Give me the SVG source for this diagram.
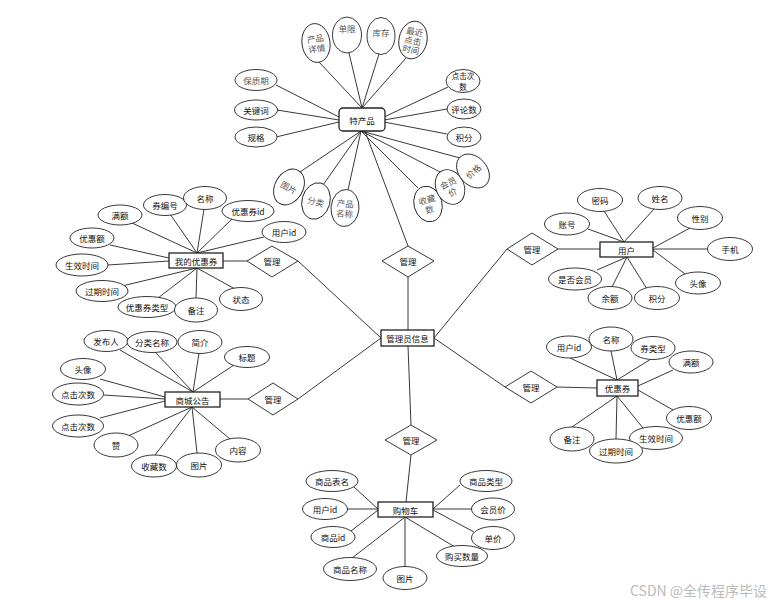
<svg xmlns="http://www.w3.org/2000/svg" width="778" height="604" viewBox="0 0 778 604">
<style>
  .bg{fill:#fff}
  .ln{stroke:#222;stroke-width:0.9;fill:none}
  .el{fill:#fff;stroke:#222;stroke-width:0.9}
  .en{fill:#fff;stroke:#222;stroke-width:1.3}
  .dm{fill:#fff;stroke:#222;stroke-width:0.9}
  .t{font-family:"Noto Sans CJK SC","Noto Sans",sans-serif;font-size:8.5px;fill:#111;text-anchor:middle;dominant-baseline:central}
  .s{font-size:7.5px}
  .g{font-family:"Noto Sans CJK SC","Noto Sans",sans-serif;font-size:8.5px;fill:#555;text-anchor:middle;dominant-baseline:central}
  .wm{font-family:"Noto Sans CJK SC","Noto Sans",sans-serif;font-size:14px;fill:#bbb}
</style>
<rect class="bg" x="0" y="0" width="778" height="604"/>
<g id="connectors">
  <line class="ln" x1="362" y1="108" x2="319" y2="62"/>
  <line class="ln" x1="362" y1="108" x2="349" y2="53"/>
  <line class="ln" x1="362" y1="108" x2="379" y2="54"/>
  <line class="ln" x1="362" y1="108" x2="406" y2="58"/>
  <line class="ln" x1="339" y1="117" x2="276" y2="85"/>
  <line class="ln" x1="339" y1="120" x2="277" y2="110"/>
  <line class="ln" x1="339" y1="122" x2="276" y2="137"/>
  <line class="ln" x1="384" y1="117" x2="448" y2="87"/>
  <line class="ln" x1="384" y1="120" x2="447" y2="109"/>
  <line class="ln" x1="384" y1="122" x2="447" y2="134"/>
  <line class="ln" x1="361" y1="131" x2="300" y2="172"/>
  <line class="ln" x1="361" y1="131" x2="323" y2="185"/>
  <line class="ln" x1="361" y1="131" x2="348" y2="190"/>
  <line class="ln" x1="361" y1="131" x2="418" y2="188"/>
  <line class="ln" x1="361" y1="131" x2="440" y2="172"/>
  <line class="ln" x1="361" y1="131" x2="460" y2="158"/>
  <line class="ln" x1="365" y1="131" x2="408" y2="246"/>
  <line class="ln" x1="408" y1="277" x2="408" y2="330"/>
  <line class="ln" x1="408" y1="346" x2="411" y2="425"/>
  <line class="ln" x1="298" y1="261" x2="381" y2="338"/>
  <line class="ln" x1="298" y1="399" x2="381" y2="338"/>
  <line class="ln" x1="507" y1="249" x2="434" y2="338"/>
  <line class="ln" x1="505" y1="387" x2="434" y2="338"/>
  <line class="ln" x1="223" y1="261" x2="247" y2="261"/>
  <line class="ln" x1="197" y1="253" x2="132" y2="223"/>
  <line class="ln" x1="197" y1="253" x2="170" y2="214"/>
  <line class="ln" x1="197" y1="253" x2="204" y2="209"/>
  <line class="ln" x1="197" y1="253" x2="232" y2="219"/>
  <line class="ln" x1="197" y1="253" x2="264" y2="237"/>
  <line class="ln" x1="169" y1="258" x2="110" y2="245"/>
  <line class="ln" x1="169" y1="261" x2="108" y2="265"/>
  <line class="ln" x1="197" y1="268" x2="122" y2="286"/>
  <line class="ln" x1="197" y1="268" x2="158" y2="298"/>
  <line class="ln" x1="197" y1="268" x2="196" y2="298"/>
  <line class="ln" x1="197" y1="268" x2="235" y2="289"/>
  <line class="ln" x1="220" y1="399" x2="248" y2="399"/>
  <line class="ln" x1="193" y1="392" x2="120" y2="350"/>
  <line class="ln" x1="193" y1="392" x2="155" y2="352"/>
  <line class="ln" x1="193" y1="392" x2="199" y2="353"/>
  <line class="ln" x1="193" y1="392" x2="234" y2="365"/>
  <line class="ln" x1="165" y1="397" x2="100" y2="379"/>
  <line class="ln" x1="165" y1="399" x2="104" y2="395"/>
  <line class="ln" x1="165" y1="401" x2="100" y2="418"/>
  <line class="ln" x1="192" y1="407" x2="128" y2="436"/>
  <line class="ln" x1="192" y1="407" x2="155" y2="455"/>
  <line class="ln" x1="192" y1="407" x2="197" y2="453"/>
  <line class="ln" x1="192" y1="407" x2="230" y2="439"/>
  <line class="ln" x1="558" y1="249" x2="600" y2="249"/>
  <line class="ln" x1="624" y1="242" x2="588" y2="229"/>
  <line class="ln" x1="624" y1="242" x2="604" y2="211"/>
  <line class="ln" x1="624" y1="242" x2="654" y2="209"/>
  <line class="ln" x1="653" y1="248" x2="690" y2="228"/>
  <line class="ln" x1="653" y1="249" x2="708" y2="249"/>
  <line class="ln" x1="653" y1="250" x2="685" y2="274"/>
  <line class="ln" x1="627" y1="257" x2="597" y2="270"/>
  <line class="ln" x1="627" y1="257" x2="612" y2="287"/>
  <line class="ln" x1="627" y1="257" x2="647" y2="289"/>
  <line class="ln" x1="557" y1="387" x2="597" y2="388"/>
  <line class="ln" x1="617" y1="380" x2="570" y2="358"/>
  <line class="ln" x1="617" y1="380" x2="611" y2="351"/>
  <line class="ln" x1="617" y1="380" x2="651" y2="359"/>
  <line class="ln" x1="638" y1="386" x2="673" y2="370"/>
  <line class="ln" x1="638" y1="390" x2="673" y2="410"/>
  <line class="ln" x1="617" y1="396" x2="572" y2="427"/>
  <line class="ln" x1="617" y1="396" x2="616" y2="439"/>
  <line class="ln" x1="617" y1="396" x2="643" y2="428"/>
  <line class="ln" x1="411" y1="455" x2="406" y2="502"/>
  <line class="ln" x1="378" y1="509" x2="354" y2="487"/>
  <line class="ln" x1="378" y1="509" x2="347" y2="509"/>
  <line class="ln" x1="378" y1="510" x2="351" y2="531"/>
  <line class="ln" x1="433" y1="509" x2="460" y2="485"/>
  <line class="ln" x1="433" y1="509" x2="472" y2="509"/>
  <line class="ln" x1="433" y1="510" x2="474" y2="532"/>
  <line class="ln" x1="405" y1="517" x2="352" y2="558"/>
  <line class="ln" x1="405" y1="517" x2="405" y2="567"/>
  <line class="ln" x1="405" y1="517" x2="455" y2="547"/>
</g>

<g id="product">
  <rect class="en" x="339" y="108" width="46" height="23" rx="4"/>
  <text class="t" x="362" y="120">特产品</text>
</g>
<g id="p-detail" transform="translate(316,43) rotate(-8)">
  <ellipse class="el" cx="0" cy="0" rx="14" ry="19.5"/>
  <text class="g" x="0" y="-5">产品</text><text class="g" x="0" y="5">详情</text>
</g>
<g id="p-limit" transform="translate(347,35)">
  <ellipse class="el" cx="0" cy="0" rx="14.5" ry="18"/>
  <text class="g" x="0" y="-7">单限</text>
</g>
<g id="p-stock" transform="translate(381,36)">
  <ellipse class="el" cx="0" cy="0" rx="14" ry="18.5"/>
  <text class="g" x="0" y="-4">库存</text>
</g>
<g id="p-recent" transform="translate(413,40) rotate(12)">
  <ellipse class="el" cx="0" cy="0" rx="14" ry="19"/>
  <text class="g s" x="0" y="-9">最近</text><text class="g s" x="0" y="0">点击</text><text class="g s" x="0" y="9">时间</text>
</g>
<g id="p-shelf"><ellipse class="el" cx="256" cy="80" rx="21" ry="10.5"/><text class="g" x="256" y="80">保质期</text></g>
<g id="p-keyword"><ellipse class="el" cx="256" cy="110" rx="21.5" ry="10"/><text class="t" x="256" y="110">关键词</text></g>
<g id="p-spec"><ellipse class="el" cx="256" cy="137" rx="21" ry="10"/><text class="t" x="256" y="137">规格</text></g>
<g id="p-clicks"><ellipse class="el" cx="463" cy="81" rx="17" ry="11.5"/><text class="t s" x="463" y="75.5">点击次</text><text class="t s" x="463" y="86.5">数</text></g>
<g id="p-comments"><ellipse class="el" cx="464" cy="109" rx="17" ry="10"/><text class="t" x="464" y="109">评论数</text></g>
<g id="p-points"><ellipse class="el" cx="464" cy="137" rx="17" ry="10"/><text class="t" x="464" y="137">积分</text></g>
<g id="p-image" transform="translate(289,187) rotate(30)">
  <ellipse class="el" cx="0" cy="0" rx="14" ry="19"/><text class="g" x="0" y="0">图片</text>
</g>
<g id="p-category" transform="translate(316,201) rotate(15)">
  <ellipse class="el" cx="0" cy="0" rx="14" ry="18.5"/><text class="g" x="0" y="0">分类</text>
</g>
<g id="p-name" transform="translate(345,208) rotate(5)">
  <ellipse class="el" cx="0" cy="0" rx="14" ry="18.5"/><text class="g" x="0" y="-5">产品</text><text class="g" x="0" y="5">名称</text>
</g>
<g id="p-fav" transform="translate(428,204) rotate(-15)">
  <ellipse class="el" cx="0" cy="0" rx="14" ry="18"/><text class="g" x="0" y="-5">收藏</text><text class="g" x="0" y="5">数</text>
</g>
<g id="p-member" transform="translate(450,187) rotate(-25)">
  <ellipse class="el" cx="0" cy="0" rx="14" ry="18"/><text class="g" x="0" y="-5">会员</text><text class="g" x="0" y="5">价</text>
</g>
<g id="p-price" transform="translate(473,171) rotate(-42)">
  <ellipse class="el" cx="0" cy="0" rx="14" ry="19"/><text class="g" x="0" y="0">价格</text>
</g>
<g id="rel-product"><polygon class="dm" points="382,261 408,246 434,261 408,277"/><text class="t" x="408" y="261">管理</text></g>

<g id="admin">
  <rect class="en" x="381" y="330" width="53" height="16"/>
  <text class="t" x="407.5" y="338">管理员信息</text>
</g>

<g id="mycoupon">
  <rect class="en" x="169" y="253" width="54" height="15"/>
  <text class="t" x="196" y="260.5">我的优惠券</text>
</g>
<g id="mc-full"><ellipse class="el" cx="120" cy="215" rx="22" ry="10"/><text class="t" x="120" y="215">满额</text></g>
<g id="mc-code"><ellipse class="el" cx="165" cy="205" rx="21.5" ry="10.5"/><text class="t" x="165" y="205">券编号</text></g>
<g id="mc-name"><ellipse class="el" cx="205" cy="198" rx="21.5" ry="11.5"/><text class="t" x="205" y="198">名称</text></g>
<g id="mc-cid"><ellipse class="el" cx="248" cy="211" rx="26" ry="10.5"/><text class="t" x="248" y="211">优惠券id</text></g>
<g id="mc-uid"><ellipse class="el" cx="284" cy="232" rx="22" ry="10.5"/><text class="t" x="284" y="232">用户id</text></g>
<g id="mc-disc"><ellipse class="el" cx="92" cy="238" rx="22" ry="10"/><text class="t" x="92" y="238">优惠额</text></g>
<g id="mc-start"><ellipse class="el" cx="82" cy="265" rx="26" ry="11"/><text class="t" x="82" y="265">生效时间</text></g>
<g id="mc-end"><ellipse class="el" cx="102" cy="291" rx="26" ry="10.5"/><text class="t" x="102" y="291">过期时间</text></g>
<g id="mc-type"><ellipse class="el" cx="147" cy="307" rx="29" ry="10.5"/><text class="t" x="147" y="307">优惠券类型</text></g>
<g id="mc-note"><ellipse class="el" cx="196" cy="310" rx="21.5" ry="12"/><text class="t" x="196" y="310">备注</text></g>
<g id="mc-state"><ellipse class="el" cx="241" cy="299" rx="21.5" ry="11.5"/><text class="t" x="241" y="299">状态</text></g>
<g id="rel-mycoupon"><polygon class="dm" points="247,261 272,246 298,261 272,277"/><text class="t" x="272" y="261">管理</text></g>

<g id="notice">
  <rect class="en" x="165" y="392" width="55" height="15"/>
  <text class="t" x="192.5" y="399.5">商城公告</text>
</g>
<g id="n-pub"><ellipse class="el" cx="106" cy="341" rx="22" ry="10.5"/><text class="t" x="106" y="341">发布人</text></g>
<g id="n-cat"><ellipse class="el" cx="152" cy="342" rx="25" ry="10.5"/><text class="t" x="152" y="342">分类名称</text></g>
<g id="n-intro"><ellipse class="el" cx="200" cy="342" rx="22" ry="11.5"/><text class="t" x="200" y="342">简介</text></g>
<g id="n-title"><ellipse class="el" cx="247" cy="357" rx="22.5" ry="10.5"/><text class="t" x="247" y="357">标题</text></g>
<g id="n-avatar"><ellipse class="el" cx="83" cy="369" rx="22.5" ry="10.5"/><text class="t" x="83" y="369">头像</text></g>
<g id="n-click1"><ellipse class="el" cx="78" cy="394" rx="25.5" ry="11"/><text class="t" x="78" y="394">点击次数</text></g>
<g id="n-click2"><ellipse class="el" cx="78" cy="426" rx="25.5" ry="11"/><text class="t" x="78" y="426">点击次数</text></g>
<g id="n-like"><ellipse class="el" cx="116" cy="445" rx="22" ry="12"/><text class="t" x="116" y="445">赞</text></g>
<g id="n-fav"><ellipse class="el" cx="154" cy="466" rx="22.5" ry="11"/><text class="t" x="154" y="466">收藏数</text></g>
<g id="n-img"><ellipse class="el" cx="199" cy="465" rx="22.5" ry="12"/><text class="t" x="199" y="465">图片</text></g>
<g id="n-content"><ellipse class="el" cx="238" cy="450" rx="22.5" ry="12"/><text class="t" x="238" y="450">内容</text></g>
<g id="rel-notice"><polygon class="dm" points="248,399 273,383 298,399 273,415"/><text class="t" x="273" y="399">管理</text></g>

<g id="user">
  <rect class="en" x="600" y="242" width="53" height="15"/>
  <text class="t" x="626.5" y="249.5">用户</text>
</g>
<g id="u-pwd"><ellipse class="el" cx="600" cy="200" rx="22.5" ry="11.5"/><text class="t" x="600" y="200">密码</text></g>
<g id="u-name"><ellipse class="el" cx="660" cy="198" rx="22" ry="11.5"/><text class="t" x="660" y="198">姓名</text></g>
<g id="u-acct"><ellipse class="el" cx="567" cy="224" rx="22.5" ry="11"/><text class="t" x="567" y="224">账号</text></g>
<g id="u-sex"><ellipse class="el" cx="700" cy="218" rx="22.5" ry="11.5"/><text class="t" x="700" y="218">性别</text></g>
<g id="u-phone"><ellipse class="el" cx="730" cy="249" rx="22.5" ry="11.5"/><text class="t" x="730" y="249">手机</text></g>
<g id="u-avatar"><ellipse class="el" cx="698" cy="283" rx="22.5" ry="11"/><text class="t" x="698" y="283">头像</text></g>
<g id="u-vip"><ellipse class="el" cx="575" cy="279" rx="26.5" ry="11"/><text class="t" x="575" y="279">是否会员</text></g>
<g id="u-bal"><ellipse class="el" cx="610" cy="298" rx="22" ry="11.5"/><text class="t" x="610" y="298">余额</text></g>
<g id="u-pts"><ellipse class="el" cx="657" cy="298" rx="22.5" ry="11.5"/><text class="t" x="657" y="298">积分</text></g>
<g id="rel-user"><polygon class="dm" points="507,249 532,233 558,249 532,265"/><text class="t" x="532" y="249">管理</text></g>

<g id="coupon">
  <rect class="en" x="597" y="380" width="41" height="16"/>
  <text class="t" x="617.5" y="388">优惠券</text>
</g>
<g id="c-uid"><ellipse class="el" cx="569" cy="347" rx="22.5" ry="11"/><text class="t" x="569" y="347">用户id</text></g>
<g id="c-name"><ellipse class="el" cx="611" cy="339" rx="22" ry="12"/><text class="t" x="611" y="339">名称</text></g>
<g id="c-type"><ellipse class="el" cx="653" cy="348" rx="22" ry="11.5"/><text class="t" x="653" y="348">券类型</text></g>
<g id="c-full"><ellipse class="el" cx="691" cy="362" rx="22" ry="11"/><text class="t" x="691" y="362">满额</text></g>
<g id="c-disc"><ellipse class="el" cx="689" cy="418" rx="22.5" ry="11.5"/><text class="t" x="689" y="418">优惠额</text></g>
<g id="c-start"><ellipse class="el" cx="656" cy="438" rx="26.5" ry="11.5"/><text class="t" x="656" y="438">生效时间</text></g>
<g id="c-end"><ellipse class="el" cx="616" cy="451" rx="26.5" ry="12"/><text class="t" x="616" y="451">过期时间</text></g>
<g id="c-note"><ellipse class="el" cx="572" cy="439" rx="22" ry="12"/><text class="t" x="572" y="439">备注</text></g>
<g id="rel-coupon"><polygon class="dm" points="505,387 531,371 557,387 531,403"/><text class="t" x="531" y="387">管理</text></g>

<g id="cart">
  <rect class="en" x="378" y="502" width="55" height="15"/>
  <text class="t" x="405.5" y="509.5">购物车</text>
</g>
<g id="ct-table"><ellipse class="el" cx="332" cy="481" rx="26" ry="10.5"/><text class="t" x="332" y="481">商品表名</text></g>
<g id="ct-uid"><ellipse class="el" cx="325" cy="509" rx="22.5" ry="10.5"/><text class="t" x="325" y="509">用户id</text></g>
<g id="ct-gid"><ellipse class="el" cx="333" cy="537" rx="22" ry="10.5"/><text class="t" x="333" y="537">商品id</text></g>
<g id="ct-gname"><ellipse class="el" cx="350" cy="569" rx="26.5" ry="11.5"/><text class="t" x="350" y="569">商品名称</text></g>
<g id="ct-img"><ellipse class="el" cx="405" cy="578" rx="22" ry="11.5"/><text class="t" x="405" y="578">图片</text></g>
<g id="ct-qty"><ellipse class="el" cx="462" cy="556" rx="25.5" ry="10.5"/><text class="t" x="462" y="556">购买数量</text></g>
<g id="ct-price"><ellipse class="el" cx="493" cy="538" rx="21.5" ry="11.5"/><text class="t" x="493" y="538">单价</text></g>
<g id="ct-member"><ellipse class="el" cx="493" cy="509" rx="21.5" ry="11"/><text class="t" x="493" y="509">会员价</text></g>
<g id="ct-type"><ellipse class="el" cx="486" cy="481" rx="26" ry="10.5"/><text class="t" x="486" y="481">商品类型</text></g>
<g id="rel-cart"><polygon class="dm" points="385,440 411,425 437,440 411,455"/><text class="t" x="411" y="440">管理</text></g>

<text class="wm" x="630" y="596">CSDN @全传程序毕设</text>
</svg>
